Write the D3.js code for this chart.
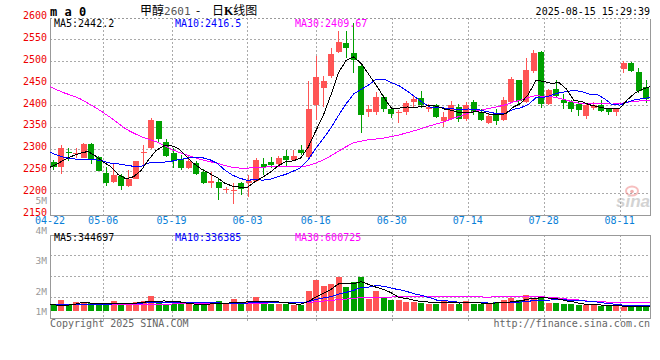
<!DOCTYPE html>
<html>
<head>
<meta charset="utf-8">
<script src="https://cdn.jsdelivr.net/npm/d3@7"></script>
<style>
body { margin: 0; background: #fff; }
svg { display: block; }
text { font-family: "DejaVu Sans Mono", monospace; font-size: 10px; }
</style>
</head>
<body>
<svg id="chart" width="660" height="360"></svg>
<script>
// trading days shown (80 bars)
const dates = [
  "04-22","04-23","04-24","04-25","04-28","04-29","04-30",
  "05-06","05-07","05-08","05-09","05-12","05-13","05-14","05-15","05-16","05-19","05-20","05-21","05-22","05-23","05-26","05-27","05-28","05-29","05-30",
  "06-03","06-04","06-05","06-06","06-09","06-10","06-11","06-12","06-13","06-16","06-17","06-18","06-19","06-20","06-23","06-24","06-25","06-26","06-27","06-30",
  "07-01","07-02","07-03","07-04","07-07","07-08","07-09","07-10","07-11","07-14","07-15","07-16","07-17","07-18","07-21","07-22","07-23","07-24","07-25","07-28","07-29","07-30","07-31",
  "08-01","08-04","08-05","08-06","08-07","08-08","08-11","08-12","08-13","08-14","08-15"
];

const opens = [2271,2259,2293,2289,2280,2311,2282,2245,2225,2237,2216,2232,2290,2301,2364,2316,2291,2277,2257,2267,
  2246,2222,2224,2205,2205,2221,2221,2226,2266,2270,2265,2284,2275,2297,2282,2399,2440,2467,2522,2541,
  2518,2489,2383,2383,2418,2391,2381,2385,2408,2415,2391,2399,2364,2368,2396,2368,2407,2383,2360,2379,
  2366,2408,2457,2408,2477,2521,2403,2437,2412,2406,2402,2374,2394,2399,2391,2385,2483,2497,2475,2442];
const highs = [2274,2309,2301,2303,2314,2313,2284,2258,2268,2242,2251,2273,2309,2370,2364,2323,2301,2286,2284,2272,
  2253,2247,2233,2212,2221,2225,2240,2278,2279,2281,2284,2297,2297,2309,2456,2513,2466,2530,2569,2569,
  2587,2495,2400,2429,2423,2396,2389,2409,2423,2432,2402,2402,2384,2409,2403,2407,2412,2390,2379,2391,
  2419,2464,2458,2507,2526,2523,2437,2457,2425,2412,2406,2404,2406,2412,2394,2394,2501,2499,2484,2458];
const lows = [2251,2243,2273,2278,2278,2266,2249,2215,2222,2207,2213,2231,2262,2299,2316,2282,2257,2251,2255,2240,
  2220,2211,2182,2200,2175,2194,2191,2224,2240,2256,2263,2260,2272,2286,2279,2366,2396,2461,2518,2507,
  2473,2337,2373,2378,2385,2371,2360,2378,2394,2393,2385,2370,2351,2365,2361,2363,2378,2363,2357,2354,
  2363,2405,2402,2405,2473,2393,2399,2415,2391,2385,2374,2368,2389,2385,2377,2374,2473,2476,2428,2404];
const closes = [2258,2301,2290,2291,2311,2277,2250,2221,2240,2216,2232,2272,2293,2365,2322,2284,2272,2257,2272,2242,
  2221,2227,2210,2209,2207,2209,2227,2274,2259,2264,2280,2275,2284,2290,2391,2465,2456,2517,2543,2530,
  2504,2378,2391,2418,2391,2380,2385,2404,2414,2399,2395,2373,2372,2400,2369,2399,2383,2367,2375,2364,
  2412,2459,2410,2480,2520,2402,2435,2421,2404,2391,2389,2399,2400,2387,2383,2391,2497,2478,2432,2413];
const volumes = [482000,770000,410000,626000,626000,554000,410000,410000,698000,554000,
  454000,626000,698000,1058000,698000,526000,526000,526000,526000,410000,
  410000,626000,698000,482000,842000,526000,698000,986000,526000,526000,
  526000,526000,454000,410000,1440000,2210000,1778000,1922000,2426000,1706000,
  2066000,2426000,886000,1418000,936000,770000,770000,648000,648000,576000,
  526000,526000,770000,526000,526000,698000,526000,526000,526000,648000,
  770000,958000,770000,1130000,958000,1058000,576000,576000,482000,526000,
  410000,410000,410000,338000,338000,338000,288000,338000,410000,410000];

// moving averages before enough bars are on screen
const ma5Head = [2258,2266,2276,2284];
const ma10Head = [2292,2285,2280,2277,2276,2276,2275,2272,2267];
const ma30Head = [2442,2434,2427,2421,2414,2404,2394,2383,2371,2358,2345,2336,2328,2322,2316,
  2308,2299,2292,2286,2280,2275,2271,2267,2262,2258,2256,2256,2257,2258];
const volMa5Head = [470000,420000,420000,440000];
const volMa10Head = [480000,480000,478000,478000,480000,482000,484000,486000,490000];
const volMa30Head = [480000,480000,480000,482000,482000,484000,484000,486000,488000,490000,
  492000,494000,496000,498000,500000,502000,504000,506000,508000,510000,
  512000,514000,516000,518000,520000,522000,524000,526000,528000];

// legend values as printed
const priceMaLegend = ["2442.2","2416.5","2409.67"];
const volMaLegend = ["344697","336385","600725"];

const priceTicks = [2150,2200,2250,2300,2350,2400,2450,2500,2550,2600];
const dateTicks = ["04-22","05-06","05-19","06-03","06-16","06-30","07-14","07-28","08-11"];
const volTicks = [1,2,3,4,5];

const upColor = "#ff5555";
const downColor = "#00a000";
const maColors = ["#000000","#0000ff","#ff00ff"];
const gridColor = "#aaaaaa";
const borderColor = "#999999";

const plotLeft = 50, plotRight = 650;
const mainTop = 17.5, mainBottom = 214.5;
const volTop = 234.5, volBottom = 317.5, volBase = 311;

var svg = d3.select("#chart");

var xBand = d3.scaleBand().domain(dates).range([plotLeft, plotRight]).paddingInner(0.2).paddingOuter(0.1);
var xPoint = d3.scalePoint().domain(dates).range([plotLeft, plotRight]);
var y = d3.scaleLinear().domain([2150, 2600]).range([mainBottom, mainTop]);
var yVol = d3.scaleLinear().domain([0, 5472000]).range([volBase, volBase - 76]);
// sina prints its volume tick labels on its own spacing
var yVolLabel = d3.scaleLinear().domain([2, 5]).range([294.5, 204]);

function movingAvg(vals, n, head) {
    return vals.map(function (v, i) {
        if (i < n - 1) return head[i];
        return d3.mean(vals.slice(i - n + 1, i + 1));
    });
}

var crisp = function (v) { return Math.round(v) + 0.5; };

// ---- grid ----
var grid = svg.append("g").attr("shape-rendering", "crispEdges");
grid.selectAll(".hgrid")
    .data(priceTicks.slice(1))
    .enter()
    .append("line")
    .attr("x1", plotLeft).attr("x2", plotRight)
    .attr("y1", function (d) { return crisp(y(d)); })
    .attr("y2", function (d) { return crisp(y(d)); })
    .style("stroke", gridColor)
    .style("stroke-dasharray", "2,2");

[1, 2, 3].forEach(function (k) {
    var yy = crisp(volTop + (volBottom - volTop) * k / 4);
    grid.append("line")
        .attr("x1", plotLeft).attr("x2", plotRight)
        .attr("y1", yy).attr("y2", yy)
        .style("stroke", gridColor)
        .style("stroke-dasharray", "2,2");
});

dateTicks.slice(1).forEach(function (d) {
    var xx = crisp(xPoint(d));
    grid.append("line")
        .attr("x1", xx).attr("x2", xx)
        .attr("y1", mainTop).attr("y2", mainBottom)
        .style("stroke", gridColor)
        .style("stroke-dasharray", "2,2");
    grid.append("line")
        .attr("x1", xx).attr("x2", xx)
        .attr("y1", volTop).attr("y2", volBottom + 3)
        .style("stroke", gridColor)
        .style("stroke-dasharray", "2,2");
});

// ---- borders ----
var border = svg.append("g").attr("shape-rendering", "crispEdges").style("stroke", borderColor).style("fill", "none");
border.append("path")
    .attr("d", "M" + (plotLeft + 0.5) + "," + crisp(mainTop) + "V" + crisp(mainBottom) + "H" + (plotRight + 0.5) + "V" + crisp(mainTop));
border.append("line")
    .attr("x1", plotLeft).attr("x2", plotRight)
    .attr("y1", crisp(mainTop)).attr("y2", crisp(mainTop))
    .style("stroke-dasharray", "2,2");
border.append("rect")
    .attr("x", plotLeft + 0.5).attr("y", crisp(volTop))
    .attr("width", plotRight - plotLeft).attr("height", Math.round(volBottom - volTop));

// ---- watermark ----
var wm = svg.append("g").attr("opacity", 0.5);
wm.append("ellipse")
    .attr("cx", 632).attr("cy", 191).attr("rx", 6).attr("ry", 4.5)
    .style("fill", "none").style("stroke", "#f08080").style("stroke-width", 2);
wm.append("circle").attr("cx", 632).attr("cy", 191.5).attr("r", 1.8).style("fill", "#e06060");
wm.append("text")
    .attr("x", 650).attr("y", 207)
    .attr("text-anchor", "end")
    .style("font-family", "'Liberation Sans', sans-serif")
    .style("font-size", "17px").style("font-weight", "bold").style("font-style", "italic")
    .style("fill", "#a8a8a8")
    .text("sina");

// ---- candles ----
var bw = xBand.bandwidth();
var candles = svg.append("g").attr("shape-rendering", "crispEdges");
var cgroup = candles.selectAll("g")
    .data(dates.map(function (d, i) { return i; }))
    .enter()
    .append("g");

cgroup.append("line")
    .attr("x1", function (i) { return Math.floor(xBand(dates[i]) + bw / 2) + 0.5; })
    .attr("x2", function (i) { return Math.floor(xBand(dates[i]) + bw / 2) + 0.5; })
    .attr("y1", function (i) { return y(highs[i]); })
    .attr("y2", function (i) { return y(lows[i]); })
    .style("stroke", function (i) { return closes[i] >= opens[i] ? upColor : downColor; });

cgroup.append("rect")
    .attr("x", function (i) { return Math.round(xBand(dates[i])); })
    .attr("width", Math.round(bw))
    .attr("y", function (i) { return y(Math.max(opens[i], closes[i])); })
    .attr("height", function (i) { return Math.max(1.5, Math.abs(y(opens[i]) - y(closes[i]))); })
    .style("fill", function (i) { return closes[i] >= opens[i] ? upColor : downColor; });

// ---- volume bars ----
svg.append("g").attr("shape-rendering", "crispEdges")
    .selectAll("rect")
    .data(volumes)
    .enter()
    .append("rect")
    .attr("x", function (v, i) { return Math.round(xBand(dates[i])); })
    .attr("width", Math.round(bw))
    .attr("y", function (v) { return yVol(v); })
    .attr("height", function (v) { return volBase - yVol(v); })
    .style("fill", function (v, i) { return closes[i] >= opens[i] ? upColor : downColor; });

// ---- moving average lines ----
var priceMa = [movingAvg(closes, 5, ma5Head), movingAvg(closes, 10, ma10Head), movingAvg(closes, 30, ma30Head)];
var volMa = [movingAvg(volumes, 5, volMa5Head), movingAvg(volumes, 10, volMa10Head), movingAvg(volumes, 30, volMa30Head)];

var priceLine = d3.line()
    .x(function (v, i) { return xPoint(dates[i]); })
    .y(function (v) { return y(v); });
var volLine = d3.line()
    .x(function (v, i) { return xPoint(dates[i]); })
    .y(function (v) { return yVol(v); });

var lines = svg.append("g").attr("shape-rendering", "crispEdges").style("fill", "none");
[2, 1, 0].forEach(function (k) {
    lines.append("path").attr("d", priceLine(priceMa[k])).style("stroke", maColors[k]);
    lines.append("path").attr("d", volLine(volMa[k])).style("stroke", maColors[k]);
});

// ---- axis labels ----
svg.append("g")
    .selectAll("text")
    .data(priceTicks)
    .enter()
    .append("text")
    .attr("x", 47)
    .attr("y", function (d) { return y(d) + 1.5; })
    .attr("text-anchor", "end")
    .style("fill", "#ee0000")
    .text(function (d) { return d; });

svg.append("g")
    .selectAll("text")
    .data(dateTicks)
    .enter()
    .append("text")
    .attr("x", function (d) { return xPoint(d); })
    .attr("y", 223.5)
    .attr("text-anchor", "middle")
    .style("fill", "#0a7fd8")
    .text(function (d) { return d; });

svg.append("g")
    .selectAll("text")
    .data(volTicks)
    .enter()
    .append("text")
    .attr("x", 47)
    .attr("y", function (d) { return Math.min(yVolLabel(d), 314.5); })
    .attr("text-anchor", "end")
    .style("fill", "#999999")
    .style("font-size", "9.5px")
    .text(function (d) { return d + "M"; });

// ---- legends ----
var legendX = [54, 175, 295];
var legendNames = ["MA5", "MA10", "MA30"];
legendNames.forEach(function (name, k) {
    svg.append("text")
        .attr("x", legendX[k]).attr("y", 27)
        .style("fill", maColors[k])
        .text(name + ":" + priceMaLegend[k]);
    svg.append("text")
        .attr("x", legendX[k]).attr("y", 241)
        .style("fill", maColors[k])
        .text(name + ":" + volMaLegend[k]);
});

// ---- header ----
svg.append("text")
    .attr("x", 50).attr("y", 15.5)
    .attr("xml:space", "preserve")
    .style("font-family", "'DejaVu Sans Mono', monospace")
    .style("font-size", "12px").style("font-weight", "bold")
    .text("m a 0");

var title = svg.append("text")
    .attr("y", 14.5)
    .style("font-family", "'Noto Sans CJK SC', sans-serif")
    .style("font-size", "12px");
title.append("tspan").attr("x", 140).text("甲醇");
title.append("tspan").style("fill", "#555").style("font-family", "'DejaVu Sans Mono', monospace").style("font-size", "11px").text("2601");
title.append("tspan").attr("x", 196).text("-");
title.append("tspan").attr("x", 212).text("日");
title.append("tspan").style("font-weight", "bold").style("font-family", "'Liberation Serif', serif").text("K");
title.append("tspan").text("线图");

svg.append("text")
    .attr("x", 650).attr("y", 15)
    .attr("text-anchor", "end")
    .text("2025-08-15 15:29:39");

// ---- footer ----
svg.append("text")
    .attr("x", 50).attr("y", 327)
    .style("fill", "#666")
    .text("Copyright 2025 SINA.COM");
svg.append("text")
    .attr("x", 650).attr("y", 327)
    .attr("text-anchor", "end")
    .style("fill", "#666")
    .text("http://finance.sina.com.cn");
</script>
</body>
</html>
